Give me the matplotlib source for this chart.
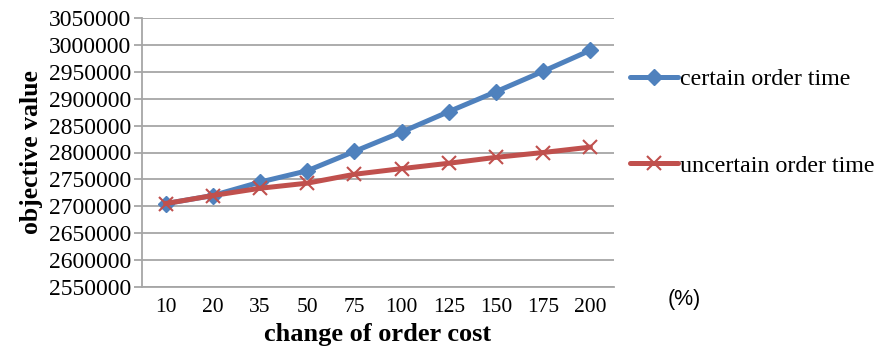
import matplotlib
matplotlib.use("Agg")
import matplotlib.pyplot as plt
import numpy as np

categories = ["10", "20", "35", "50", "75", "100", "125", "150", "175", "200"]
certain = [2705000, 2720000, 2745000, 2766000, 2802000, 2838000, 2876000, 2913000, 2951000, 2990000]
uncertain = [2705000, 2720000, 2733500, 2743000, 2759500, 2770000, 2780000, 2791000, 2800000, 2810000]
yticks = list(range(2550000, 3050001, 50000))

plt.rcParams['font.family'] = ['Liberation Serif', 'DejaVu Serif']

fig = plt.figure(figsize=(8.78, 3.49), dpi=100)
ax = fig.add_axes([142/878, 1-287/349, (614-142)/878, (287-18)/349])

x = np.arange(len(categories))
blue = '#4F81BD'
red = '#C0504D'
ax.plot(x, certain, color=blue, lw=3.6, marker='D', ms=8, mfc=blue, mec=blue,
        label='certain order time', zorder=3, solid_capstyle='round')
ax.plot(x, uncertain, color=red, lw=3.6, marker='x', ms=10, mew=1.5, mec=red,
        label='uncertain order time', zorder=4, solid_capstyle='round')

ax.set_xlim(-0.5, len(categories)-0.5)
ax.set_ylim(2550000, 3050000)
ax.set_yticks(yticks)
ax.set_yticklabels([str(v) for v in yticks], fontsize=17)
ax.set_xticks(x)
ax.set_xticklabels(categories, fontsize=15.5)
ax.grid(axis='y', color='#A6A6A6', lw=1.3)
ax.set_axisbelow(True)
for s in ['top', 'right']:
    ax.spines[s].set_visible(False)
for s in ['left', 'bottom']:
    ax.spines[s].set_color('#A6A6A6')
    ax.spines[s].set_linewidth(1.3)
ax.tick_params(axis='y', length=6, color='#A6A6A6', width=1.3, pad=2)
ax.tick_params(axis='x', length=0, pad=8)

ax.set_ylabel('objective value', fontsize=18.5, fontweight='bold', labelpad=4)
ax.set_xlabel('change of order cost', fontsize=19, fontweight='bold', labelpad=4)

fig.text(684/878, 1-300/349, '(%)', fontsize=15.5, family='Liberation Sans',
         ha='center', va='center')

fig.legend(loc='center left', bbox_to_anchor=(0.717, 0.649), frameon=False,
           fontsize=17.3, labelspacing=2.7, handlelength=2.0, handletextpad=0.1,
           borderpad=0, borderaxespad=0)

fig.savefig('out.png', dpi=100)
